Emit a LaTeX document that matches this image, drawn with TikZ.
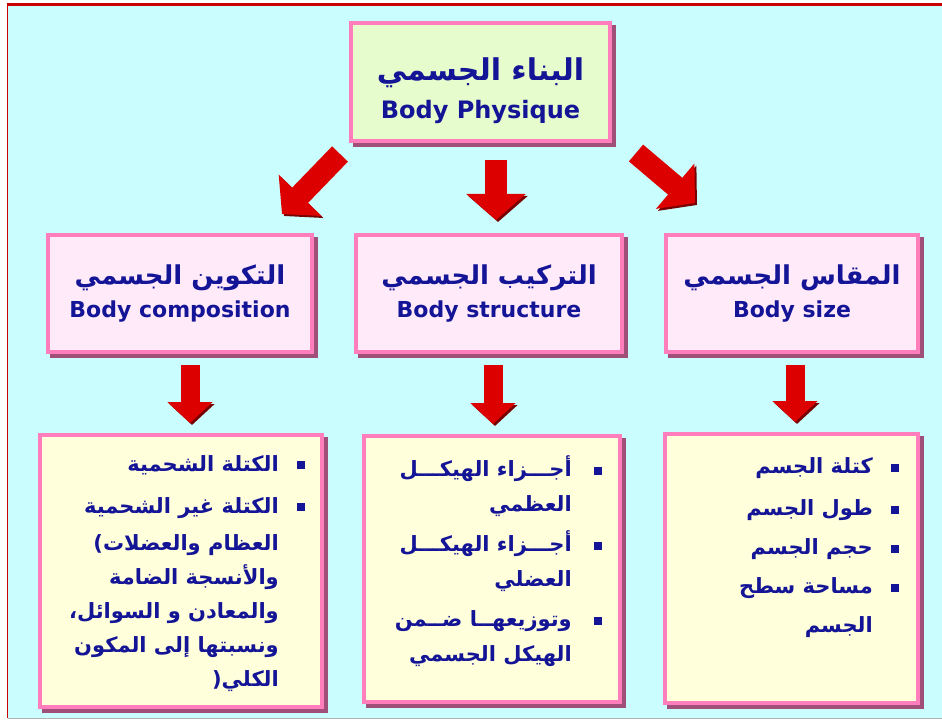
\documentclass[tikz,border=0pt]{standalone}
\usepackage{fontspec}
\usetikzlibrary{calc,shadows,arrows.meta}
\TeXXeTstate=1
\newfontfamily\arabicfont[Script=Arabic]{DejaVu Sans}
\newfontfamily\engfont{DejaVu Sans}
\newcommand{\artxt}[1]{{\arabicfont\bfseries\beginR #1\endR}}
\newcommand{\blt}{\rule[2pt]{8pt}{8pt}}
\definecolor{bgCyan}{RGB}{202,254,254}
\definecolor{frameRed}{RGB}{204,0,0}
\definecolor{boxPink}{RGB}{255,126,187}
\definecolor{boxShade}{RGB}{160,80,120}
\definecolor{headFill}{RGB}{230,252,204}
\definecolor{mainFill}{RGB}{255,234,250}
\definecolor{listFill}{RGB}{255,255,220}
\definecolor{inkBlue}{RGB}{20,20,150}
\definecolor{arrowRed}{RGB}{221,0,0}
\definecolor{arrowShade}{RGB}{120,0,0}
\begin{document}
\begin{tikzpicture}
[x=1pt,y=-1pt,
  boxDecorate/.style={draw=boxPink,line width=4pt,inner sep=0pt,
    drop shadow={shadow xshift=4pt,shadow yshift=-4pt,fill=boxShade,
      draw=boxShade,line width=4pt,opacity=1}},
  headDecorate/.style={boxDecorate,fill=headFill,minimum width=259pt,
    minimum height=118pt,align=center,text=inkBlue},
  mainDecorate/.style={boxDecorate,fill=mainFill,minimum height=117pt,
    align=center,text=inkBlue},
  listDecorate/.style={boxDecorate,fill=listFill},
  listText/.style={anchor=north east,inner sep=0pt,text=inkBlue},
  fatArrow/.style={draw=arrowRed,line width=22pt,
    -{Triangle[width=58pt,length=26pt]},
    preaction={draw=arrowShade,transform canvas={xshift=2pt,yshift=-2pt}}},
  slimArrow/.style={draw=arrowRed,line width=19pt,
    -{Triangle[width=44pt,length=21pt]},
    preaction={draw=arrowShade,transform canvas={xshift=2pt,yshift=-2pt}}}]
\useasboundingbox (0,0) rectangle (942,722);
%% frame
\fill[white] (0,0) rectangle (942,722);
\fill[bgCyan] (8,6) rectangle (942,718);
\draw[frameRed,line width=3pt] (6.5,4.5) -- (942,4.5);
\draw[frameRed,line width=1.5pt] (7.5,4) -- (7.5,718);
\draw[gray!60,line width=1pt] (7.5,718.5) -- (942,718.5);
%% top box
\node[headDecorate] (physique) at (480.5,82)
  {\rule{0pt}{40pt}{\fontsize{30}{34}\selectfont\artxt{البناء الجسمي}}\\[11pt]
   {\engfont\bfseries\fontsize{24}{28}\selectfont Body Physique}};
%% second row
\foreach \nodename/\x/\w/\artitle/\entitle in {
  composition/180/264/التكوين الجسمي/Body composition,
  structure/489/266/التركيب الجسمي/Body structure,
  size/792/252/المقاس الجسمي/Body size}
{
  \node[mainDecorate,minimum width=\w pt] (\nodename) at (\x,293.5)
    {{\fontsize{26}{30}\selectfont\artxt{\artitle}}\\[8pt]
     {\engfont\bfseries\fontsize{22}{26}\selectfont\entitle}};
}
%% third row
\foreach \nodename/\x/\y/\w/\h in {
  compList/181/571/282/272, structList/492/569/256/266,
  sizeList/791.5/568.5/253/269}
{
  \node[listDecorate,minimum width=\w pt,minimum height=\h pt]
    (\nodename) at (\x,\y) {};
}
\node[listText,font=\fontsize{21}{34}\selectfont] (compText)
  at ($(compList.north east)+(-19,14)$) {%
  \begin{tabular}{@{}r@{\hspace{18pt}}c@{}}
  \artxt{الكتلة الشحمية} & \blt\\[8pt]
  \artxt{الكتلة غير الشحمية} & \blt\\[3pt]
  \artxt{العظام والعضلات)} & \\
  \artxt{والأنسجة الضامة} & \\
  \artxt{والمعادن و السوائل،} & \\
  \artxt{ونسبتها إلى المكون} & \\
  \artxt{الكلي(} &
  \end{tabular}};
\node[listText,font=\fontsize{21}{35}\selectfont] (structText)
  at ($(structList.north east)+(-20,18)$) {%
  \begin{tabular}{@{}r@{\hspace{22pt}}c@{}}
  \artxt{أجـــزاء الهيكـــل} & \blt\\
  \artxt{العظمي} & \\[5pt]
  \artxt{أجـــزاء الهيكـــل} & \blt\\
  \artxt{العضلي} & \\[5pt]
  \artxt{وتوزيعهــا ضــمن} & \blt\\
  \artxt{الهيكل الجسمي} &
  \end{tabular}};
\node[listText,font=\fontsize{21}{39}\selectfont] (sizeText)
  at ($(sizeList.north east)+(-21,14)$) {%
  \begin{tabular}{@{}r@{\hspace{18pt}}c@{}}
  \artxt{كتلة الجسم} & \blt\\[3pt]
  \artxt{طول الجسم} & \blt\\
  \artxt{حجم الجسم} & \blt\\
  \artxt{مساحة سطح} & \blt\\
  \artxt{الجسم} &
  \end{tabular}};
%% arrows
\draw[fatArrow] ($(physique.south west)+(-9,11)$)
  -- ($(composition.north east)+(-32,-19)$);
\draw[fatArrow] ($(physique.south)+(15.5,17)$)
  -- ($(structure.north)+(7,-13)$);
\draw[fatArrow] ($(physique.south east)+(24,10)$)
  -- ($(size.north west)+(31,-30)$);
\foreach \upper/\lower/\dx/\dy in {
  composition/compList/10/9, structure/structList/4/1,
  size/sizeList/3/3.5}
{
  \draw[slimArrow] ($(\upper.south)+(\dx,11)$)
    -- ($(\lower.north)+(\dy,-10)$);
}
\end{tikzpicture}
\end{document}
